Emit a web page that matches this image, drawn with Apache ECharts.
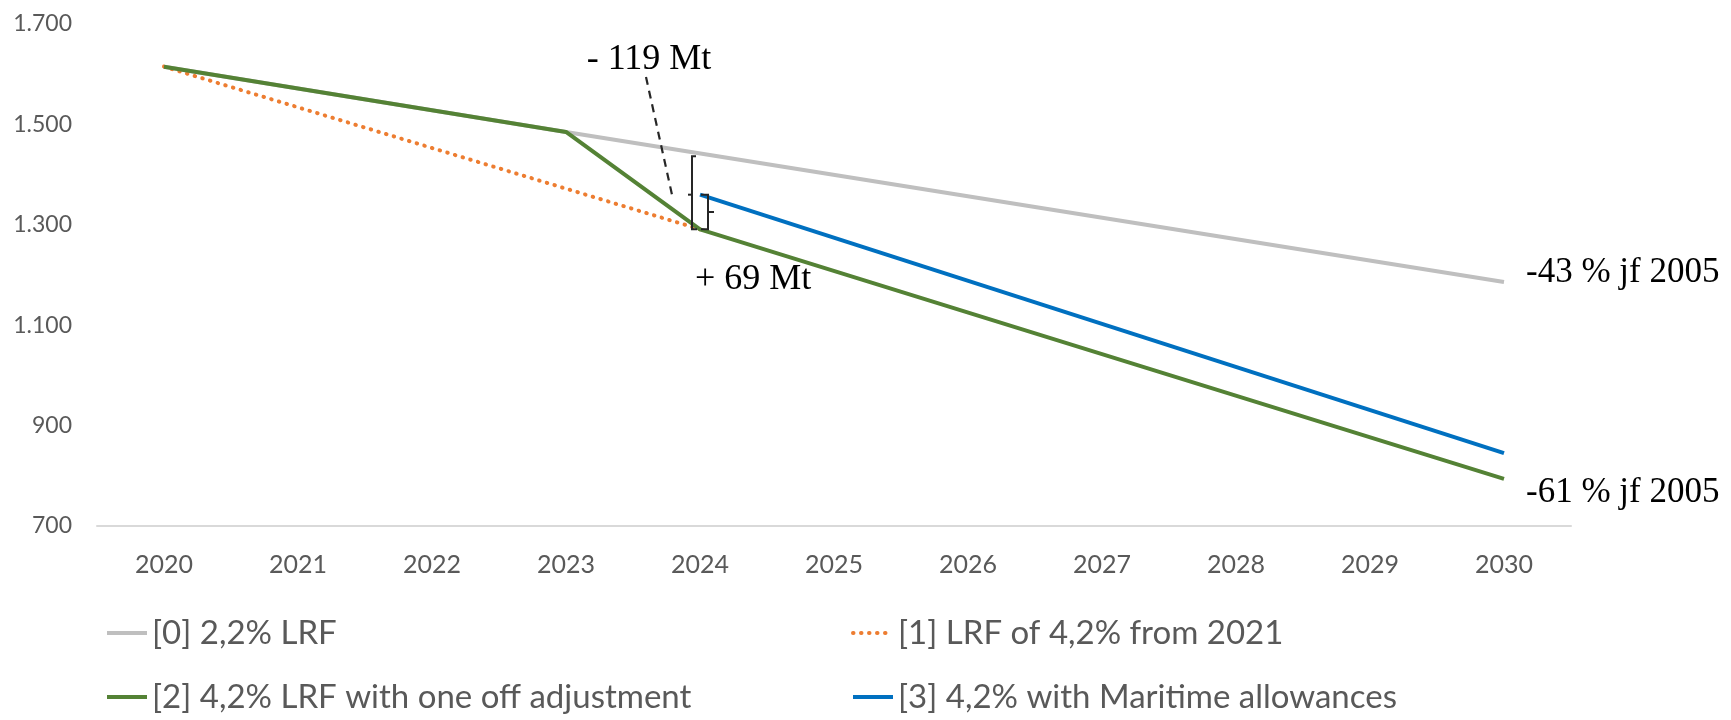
<!DOCTYPE html>
<html>
<head>
<meta charset="utf-8">
<script src="https://cdn.jsdelivr.net/npm/echarts@6/dist/echarts.min.js"></script>
<style>
html,body{margin:0;padding:0;background:#fff;}
#chart{width:1731px;height:720px;}
</style>
</head>
<body>
<div id="chart"></div>
<script>
// ---- data ----
const years = ['2020','2021','2022','2023','2024','2025','2026','2027','2028','2029','2030'];
const seriesNames = ['[0] 2,2% LRF', '[1] LRF of 4,2% from 2021', '[2] 4,2% LRF with one off adjustment', '[3] 4,2% with Maritime allowances'];
const lrf22      = [1615, null, null, 1485, null, null, null, null, null, null, 1186];
const lrf42from21= [1615, null, null, null, 1291, null, null, null, null, null, null];
const lrf42oneOff= [1615, null, null, 1485, 1291, null, null, null, null, null, 794];
const lrf42mar   = [null, null, null, null, 1360, null, null, null, null, null, 845];
const yTicks = {min: 700, max: 1700, interval: 200};
const labelMinus = '- 119 Mt';
const labelPlus = '+ 69 Mt';
const endLabel0 = '-43 % jf 2005';
const endLabel2 = '-61 % jf 2005';

const chart = echarts.init(document.getElementById('chart'));
const sans = 'Lato';
const serif = 'Liberation Serif';
const textCol = '#595959';

const legendBase = {
  orient: 'horizontal', itemWidth: 40, itemHeight: 4, itemGap: 0,
  textStyle: {color: textCol, fontFamily: sans, fontSize: 33, lineHeight: 40},
  itemStyle: {opacity: 0},
  lineStyle: {width: 4}
};
const legendPos = [[100, 608], [846, 608], [100, 672], [846, 672]];

const option = {
  animation: false,
  backgroundColor: '#ffffff',
  grid: {left: 97, right: 160, top: 24, bottom: 194},
  xAxis: {
    type: 'category', data: years, boundaryGap: true,
    axisLine: {show: true, lineStyle: {color: '#D9D9D9', width: 2}},
    axisTick: {show: false},
    axisLabel: {color: textCol, fontFamily: sans, fontSize: 25, margin: 26},
    splitLine: {show: false}
  },
  yAxis: {
    type: 'value', min: yTicks.min, max: yTicks.max, interval: yTicks.interval,
    axisLine: {show: false}, axisTick: {show: false},
    splitLine: {show: false},
    axisLabel: {color: textCol, fontFamily: sans, fontSize: 23, margin: 25,
      formatter: v => v >= 1000 ? Math.floor(v/1000) + '.' + String(v%1000).padStart(3,'0') : String(v)}
  },
  legend: seriesNames.map((n, i) => Object.assign({}, legendBase, {data: [n], left: legendPos[i][0], top: legendPos[i][1]})),
  series: [
    {name: seriesNames[0], type: 'line', data: lrf22, connectNulls: true, symbol: 'none',
     lineStyle: {color: '#BFBFBF', width: 4}, itemStyle: {color: '#BFBFBF'}, z: 1,
     endLabel: {show: true, formatter: endLabel0, fontFamily: serif, fontSize: 35, color: '#000', distance: 22, offset: [0, -9]}},
    {name: seriesNames[1], type: 'line', data: lrf42from21, connectNulls: true, symbol: 'none',
     lineStyle: {color: '#ED7D31', width: 4, type: [0.5, 7.5], cap: 'round'}, itemStyle: {color: '#ED7D31'}, z: 2},
    {name: seriesNames[2], type: 'line', data: lrf42oneOff, connectNulls: true, symbol: 'none',
     lineStyle: {color: '#548235', width: 4}, itemStyle: {color: '#548235'}, z: 3,
     endLabel: {show: true, formatter: endLabel2, fontFamily: serif, fontSize: 35, color: '#000', distance: 22, offset: [0, 14]}},
    {name: seriesNames[3], type: 'line', data: lrf42mar, connectNulls: true, symbol: 'none',
     lineStyle: {color: '#0070C0', width: 4}, itemStyle: {color: '#0070C0'}, z: 4}
  ]
};
chart.setOption(option);

// annotations anchored to the 2024 data points
const px = (i, v) => chart.convertToPixel({gridIndex: 0}, [i, v]);
const pGreen = px(4, lrf42oneOff[4]);
const pBlue = px(4, lrf42mar[4]);
const pGray23 = px(3, lrf22[3]);
const pGray30 = px(10, lrf22[10]);
const gy = pGray23[1] + (pGray30[1] - pGray23[1]) * (pGreen[0] - pGray23[0]) / (pGray30[0] - pGray23[0]);
const bx = pGreen[0] - 8;
const sx = pGreen[0] + 8;
const blk = '#262626';
const ls = {stroke: blk, lineWidth: 2, fill: null};
chart.setOption({
  graphic: [
    {type: 'polyline', shape: {points: [[bx+4, gy+3], [bx, gy+3], [bx, pGreen[1]], [bx+5, pGreen[1]]]}, style: ls, z: 10},
    {type: 'line', shape: {x1: bx-4, y1: pBlue[1], x2: bx, y2: pBlue[1]}, style: ls, z: 10},
    {type: 'polyline', shape: {points: [[sx-7, pBlue[1]], [sx, pBlue[1]], [sx, pGreen[1]], [sx-7, pGreen[1]]]}, style: ls, z: 10},
    {type: 'line', shape: {x1: sx, y1: (pBlue[1]+pGreen[1])/2, x2: sx+6, y2: (pBlue[1]+pGreen[1])/2}, style: ls, z: 10},
    {type: 'line', shape: {x1: pGreen[0]-54, y1: 77, x2: pGreen[0]-28, y2: pBlue[1]}, style: {stroke: blk, lineWidth: 2.2, lineDash: [8, 6]}, z: 10},
    {type: 'text', x: pGreen[0]-51, y: 60, style: {text: labelMinus, fontFamily: serif, fontSize: 36, fill: '#000', align: 'center', verticalAlign: 'middle'}, z: 10},
    {type: 'text', x: pGreen[0]-5, y: 280, style: {text: labelPlus, fontFamily: serif, fontSize: 36, fill: '#000', align: 'left', verticalAlign: 'middle'}, z: 10}
  ]
});
</script>
</body>
</html>
